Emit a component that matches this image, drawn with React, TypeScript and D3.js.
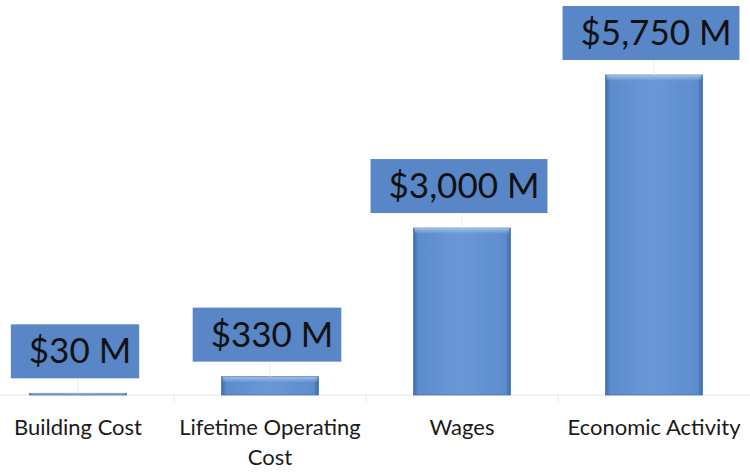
import React, { useLayoutEffect, useRef, useState } from "react";
import * as d3 from "d3";

const categories: string[][] = [["Building Cost"], ["Lifetime Operating", "Cost"], ["Wages"], ["Economic Activity"]];
const values: number[] = [30, 330, 3000, 5750];
const valueLabels: string[] = ["$30 M", "$330 M", "$3,000 M", "$5,750 M"];

const W = 750;
const H = 472;
const FONT = "Lato, 'Open Sans', sans-serif";

export default function App() {
  const x = d3
    .scaleBand<number>()
    .domain(values.map((_, i) => i))
    .range([-18, 750])
    .paddingInner(0.495)
    .paddingOuter(0.2475);
  const y = d3.scaleLinear().domain([0, 5750]).range([395, 75]);

  const textRefs = useRef<(SVGTextElement | null)[]>([]);
  const [widths, setWidths] = useState<number[]>(values.map(() => 140));
  useLayoutEffect(() => {
    setWidths(textRefs.current.map((t) => (t ? t.getComputedTextLength() : 140)));
  }, []);

  const boxH = 54;
  const gap = 15;
  const padL = 16;
  const padR = 10;

  return (
    <svg width={W} height={H} style={{ position: "absolute", left: 0, top: 0, background: "#fff" }}>
      <defs>
        <linearGradient id="barH" x1="0" x2="1" y1="0" y2="0">
          <stop offset="0" stopColor="#3d6aa8" />
          <stop offset="0.05" stopColor="#5c8ccd" />
          <stop offset="0.5" stopColor="#6a98d7" />
          <stop offset="0.95" stopColor="#5c8ccd" />
          <stop offset="1" stopColor="#3d6aa8" />
        </linearGradient>
        <linearGradient id="barTop" x1="0" x2="0" y1="0" y2="1">
          <stop offset="0" stopColor="#a3c1e8" stopOpacity="0.95" />
          <stop offset="1" stopColor="#a3c1e8" stopOpacity="0" />
        </linearGradient>
      </defs>
      <line x1={0} x2={W} y1={y(0)} y2={y(0)} stroke="#e6e6e6" strokeWidth={1} />
      {values.slice(1).map((_, i) => {
        const xx = (x(i)! + x.bandwidth() + x(i + 1)!) / 2;
        return <line key={"t" + i} x1={xx} x2={xx} y1={y(0)} y2={y(0) + 8} stroke="#e8e8e8" />;
      })}
      {values.map((v, i) => {
        const bx = x(i)!;
        const bw = x.bandwidth();
        const top = y(v);
        const h = Math.max(y(0) - top, 1.5);
        return (
          <g key={"b" + i}>
            <rect x={bx} y={y(0) - h} width={bw} height={h} fill="url(#barH)" stroke="#4a76b3" strokeWidth={0.8} />
            <rect x={bx + 1} y={y(0) - h} width={bw - 2} height={Math.min(6, h)} fill="url(#barTop)" />
          </g>
        );
      })}
      {values.map((v, i) => {
        const cx = x(i)! + x.bandwidth() / 2;
        const tw = widths[i];
        const bottom = y(v) - gap;
        const top = bottom - boxH;
        return (
          <g key={"l" + i}>
            <line x1={cx} x2={cx} y1={bottom} y2={y(v)} stroke="#ececec" />
            <rect x={cx - tw / 2 - padL} y={top} width={tw + padL + padR} height={boxH} fill="#5886c7" />
            <text
              ref={(el) => (textRefs.current[i] = el)}
              x={cx + 2}
              y={top + boxH / 2 + 12}
              textAnchor="middle"
              fontFamily={FONT}
              fontSize={35}
              fill="#111"
            >
              {valueLabels[i]}
            </text>
          </g>
        );
      })}
      {categories.map((lines, i) => {
        const cx = x(i)! + x.bandwidth() / 2;
        return (
          <text key={"c" + i} x={cx} y={435} textAnchor="middle" fontFamily={FONT} fontSize={22} fill="#1a1a1a">
            {lines.map((ln, j) => (
              <tspan key={j} x={cx} dy={j === 0 ? 0 : 30}>
                {ln}
              </tspan>
            ))}
          </text>
        );
      })}
    </svg>
  );
}
